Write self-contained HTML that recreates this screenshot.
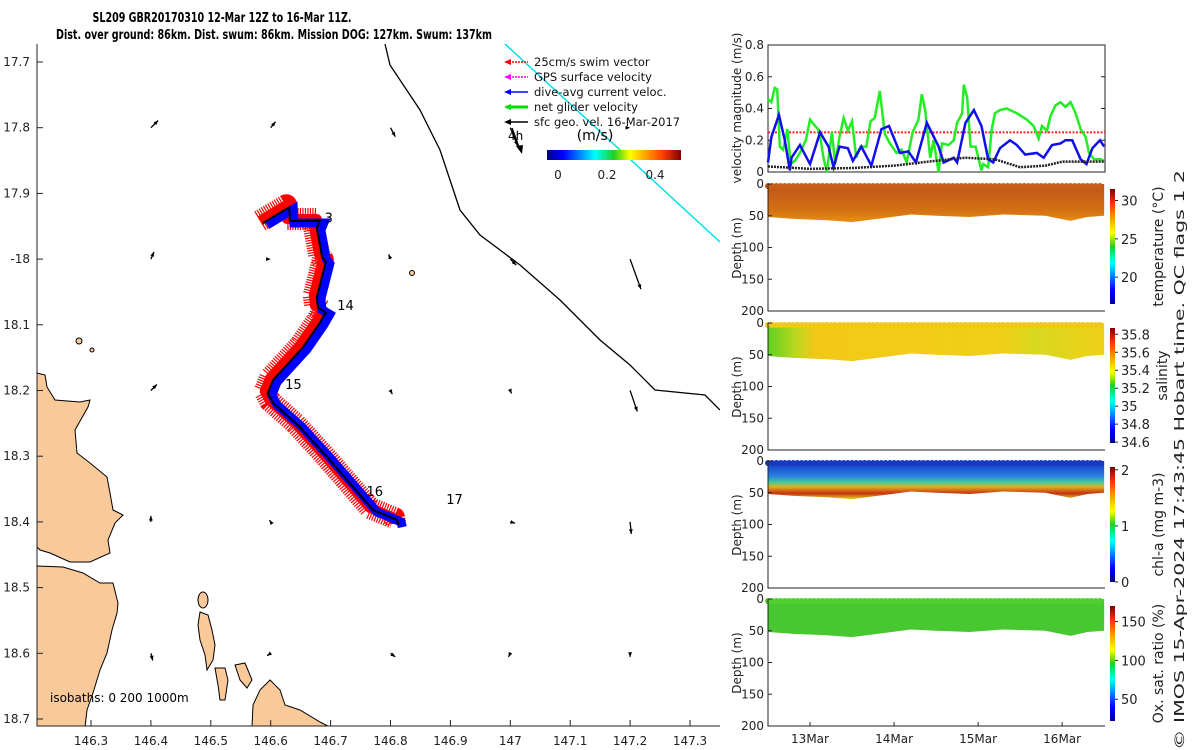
<!DOCTYPE html>
<html><head><meta charset="utf-8"><style>
html,body{margin:0;padding:0;background:#fff;overflow:hidden;width:1200px;height:750px;}
svg{display:block;font-family:"DejaVu Sans","Liberation Sans",sans-serif;}
</style></head><body>
<svg id="fig" width="1200" height="750" viewBox="0 0 1200 750" xmlns="http://www.w3.org/2000/svg">
<defs>
<linearGradient id="jetH" x1="0" x2="1" y1="0" y2="0">
<stop offset="0" stop-color="#00008f"/><stop offset="0.12" stop-color="#0000ff"/><stop offset="0.36" stop-color="#00ffff"/><stop offset="0.5" stop-color="#20d020"/><stop offset="0.62" stop-color="#ffff00"/><stop offset="0.86" stop-color="#ff4000"/><stop offset="1" stop-color="#800000"/>
</linearGradient>
<linearGradient id="jetV" x1="0" x2="0" y1="1" y2="0">
<stop offset="0" stop-color="#00008f"/><stop offset="0.12" stop-color="#0000ff"/><stop offset="0.36" stop-color="#00ffff"/><stop offset="0.5" stop-color="#20d020"/><stop offset="0.62" stop-color="#ffff00"/><stop offset="0.86" stop-color="#ff4000"/><stop offset="1" stop-color="#800000"/>
</linearGradient>
<linearGradient id="chlG" x1="0" x2="0" y1="0" y2="1">
<stop offset="0" stop-color="#1030c0"/><stop offset="0.4" stop-color="#2a80e0"/><stop offset="0.55" stop-color="#40c8a0"/><stop offset="0.68" stop-color="#e0b020"/><stop offset="0.85" stop-color="#c83010"/><stop offset="1" stop-color="#e0d020"/>
</linearGradient>
<linearGradient id="tempG" x1="0" x2="0" y1="0" y2="1">
<stop offset="0" stop-color="#c05418"/><stop offset="0.7" stop-color="#d47014"/><stop offset="1" stop-color="#e89010"/>
</linearGradient>
<linearGradient id="salG" x1="0" x2="1" y1="0" y2="0">
<stop offset="0" stop-color="#60d020"/><stop offset="0.08" stop-color="#b8d820"/><stop offset="0.14" stop-color="#f2c818"/><stop offset="0.7" stop-color="#f0d018"/><stop offset="0.8" stop-color="#d8d820"/><stop offset="1" stop-color="#f0d018"/>
</linearGradient>
<clipPath id="mapClip"><rect x="37" y="44" width="683" height="682"/></clipPath>
</defs>

<text x="222" y="22" font-size="13" font-weight="bold" text-anchor="middle" textLength="259" lengthAdjust="spacingAndGlyphs">SL209 GBR20170310 12-Mar 12Z to 16-Mar 11Z.</text>
<text x="274" y="39" font-size="13" font-weight="bold" text-anchor="middle" textLength="436" lengthAdjust="spacingAndGlyphs">Dist. over ground: 86km. Dist. swum: 86km. Mission DOG: 127km. Swum: 137km</text>

<g id="map"></g>
<g id="vel"></g>
<g id="sections"></g>

<text transform="translate(1184,460) rotate(-90)" font-size="13" text-anchor="middle" fill="#222" textLength="580" lengthAdjust="spacingAndGlyphs">© IMOS 15-Apr-2024 17:43:45 Hobart time. QC flags 1  2</text>
</svg>
<script>
// ---------- DATA ----------
const lonTicks = [146.3,146.4,146.5,146.6,146.7,146.8,146.9,147,147.1,147.2,147.3];
const latTicks = [17.7,17.8,17.9,18,18.1,18.2,18.3,18.4,18.5,18.6,18.7];
const lonTickLabels = ['146.3','146.4','146.5','146.6','146.7','146.8','146.9','147','147.1','147.2','147.3'];
const latTickLabels = ['17.7','17.8','17.9','-18','18.1','18.2','18.3','18.4','18.5','18.6','18.7'];
const trackLon = [146.587,146.631,146.632,146.682,146.677,146.686,146.692,146.677,146.679,146.692,146.682,146.654,146.604,146.595,146.604,146.646,146.694,146.771,146.811,146.813];
const trackLat = [17.945,17.921,17.942,17.942,17.953,17.997,18.004,18.058,18.074,18.081,18.097,18.134,18.184,18.204,18.219,18.253,18.301,18.382,18.397,18.405];
const dayLabels = ['3','14','15','16','17'];
const dayLabelLon = [146.69,146.711,146.624,146.76,146.893];
const dayLabelLat = [17.937,18.070,18.190,18.353,18.365];
const geoLon = [146.4,146.6,146.8,147.0,147.2, 146.4,146.6,146.8,147.0,147.2, 146.4,146.6,146.8,147.0,147.2, 146.4,146.6,146.8,147.0,147.2, 146.4,146.6,146.8,147.0,147.2];
const geoLat = [17.8,17.8,17.8,17.8,17.8, 18.0,18.0,18.0,18.0,18.0, 18.2,18.2,18.2,18.2,18.2, 18.4,18.4,18.4,18.4,18.4, 18.6,18.6,18.6,18.6,18.6];
const geoU = [0.012,0.008,0.008,0.012,0, 0.005,0,-0.003,0.01,0.018, 0.01,0,0.003,0.002,0.012, 0,-0.002,0.01,0.008,0.002, 0.003,-0.006,0.008,-0.003,0];
const geoV = [0.012,0.01,-0.015,-0.03,0, 0.012,0,0.008,-0.01,-0.05, 0.01,0,-0.006,-0.005,-0.035, 0.01,0.003,-0.002,-0.002,-0.02, -0.012,-0.004,-0.006,-0.006,-0.006];

const velDays = [12.5,12.54,12.58,12.61,12.64,12.68,12.73,12.77,12.82,12.88,12.95,13.0,13.06,13.11,13.16,13.2,13.26,13.3,13.35,13.4,13.45,13.5,13.55,13.6,13.67,13.72,13.77,13.83,13.89,13.95,14.03,14.09,14.15,14.22,14.29,14.33,14.37,14.43,14.47,14.53,14.57,14.65,14.71,14.75,14.81,14.83,14.87,14.91,14.97,15.04,15.06,15.12,15.16,15.2,15.26,15.34,15.46,15.58,15.66,15.72,15.76,15.82,15.86,15.92,15.98,16.04,16.1,16.16,16.22,16.28,16.32,16.38,16.46,16.5];
const netVel = [.46,.44,.53,.52,.16,.14,.27,.05,.07,.12,.20,.33,.29,.26,.09,0,.25,.05,.22,.34,.26,.32,.09,.16,.16,.32,.34,.51,.24,.18,.12,.14,.06,.25,.33,.49,.39,.09,.20,0,.18,.17,.20,.31,.37,.55,.47,.16,.16,.01,.05,.03,.26,.37,.39,.40,.37,.33,.29,.21,.29,.26,.35,.42,.44,.41,.44,.37,.27,.22,.12,.08,.08,.07];
const curDays = [12.5,12.54,12.63,12.7,12.76,12.78,12.88,13.0,13.12,13.22,13.28,13.35,13.45,13.51,13.61,13.73,13.85,13.94,14.07,14.17,14.26,14.39,14.53,14.59,14.71,14.75,14.85,14.95,15.04,15.12,15.18,15.26,15.38,15.46,15.56,15.7,15.78,15.88,15.98,16.04,16.12,16.22,16.29,16.36,16.45,16.5];
const curVel = [.06,.22,.36,.20,.01,.09,.17,.05,.25,.16,.03,.16,.15,.07,.16,.04,.27,.29,.12,.13,.06,.31,.16,.06,.09,.06,.31,.39,.29,.08,.06,.15,.20,.17,.11,.12,.09,.17,.18,.20,.20,.08,.05,.15,.20,.16];
const geoDays = [12.5,13.0,13.5,14.0,14.4,14.85,15.2,15.5,15.8,16.0,16.5];
const geoVel = [.035,.02,.025,.04,.065,.09,.08,.03,.04,.065,.065];
const swimVel = [0.25];
const velTicks = [0,0.2,0.4,0.6,0.8];
const velTickLabels = ['0','0.2','0.4','0.6','0.8'];
const dateTicks = [13,14,15,16];
const dateLabels = ['13Mar','14Mar','15Mar','16Mar'];
const depthTicks = [0,50,100,150,200];
const profDays = [12.5,12.8,13.2,13.5,13.8,14.2,14.5,14.9,15.3,15.8,16.1,16.3,16.5];
const profBottom = [52,55,57,60,55,48,50,52,48,50,58,52,50];
const sections = [
 {name:'temperature', label:'temperature (°C)', ticks:[20,25,30], lo:16.5, hi:31.5, fill:'url(#tempG)'},
 {name:'salinity', label:'salinity', ticks:[34.6,34.8,35,35.2,35.4,35.6,35.8], lo:34.59, hi:35.87, fill:'url(#salG)'},
 {name:'chl-a', label:'chl-a (mg m-3)', ticks:[0,1,2], lo:0, hi:2.05, fill:'url(#chlG)'},
 {name:'oxygen', label:'Ox. sat. ratio (%)', ticks:[50,100,150], lo:22, hi:170, fill:'#48c830'}
];
const secTop = [184,323,461,599];
const cbTop = [189,328,467,606];

// ---------- HELPERS ----------
const NS='http://www.w3.org/2000/svg';
function mk(parent,tag,attrs,text){const e=document.createElementNS(NS,tag);for(const k in attrs)e.setAttribute(k,attrs[k]);if(text!==undefined)e.textContent=text;parent.appendChild(e);return e;}
const mx = lon => 91 + (lon-146.3)*599;
const my = lat => 62 + (lat-17.7)*657;

// ---------- MAP ----------
const map=document.getElementById('map');
const mapInner=mk(map,'g',{'clip-path':'url(#mapClip)'});


const landShapes=[
 '37,373 45,375 47,387 55,400 80,402 90,400 88,407 75,430 77,453 90,463 107,477 110,493 113,510 123,515 115,523 108,540 110,553 90,562 70,562 50,553 40,550 37,547',
 '37,566 63,567 83,573 100,583 113,583 118,603 117,613 112,630 107,653 100,670 93,693 87,710 85,727 37,727',
 '200,612 208,615 212,630 215,645 213,660 207,670 205,655 200,640 198,625',
 '215,668 225,668 228,680 225,700 220,700 218,685',
 '235,665 245,663 252,680 247,688 240,680',
 '252,727 253,705 260,690 270,680 280,690 285,705 300,710 320,722 330,727'
];
landShapes.forEach((p,i)=>{const e=mk(mapInner,'polygon',{points:p,fill:'#f9c99a',stroke:'#000','stroke-width':1});

});
[[203,600,5,8],[79,341,3,3],[92,350,2,2],[412,273,2.5,2.5]].forEach((c,i)=>{const e=mk(mapInner,'ellipse',{cx:c[0],cy:c[1],rx:c[2],ry:c[3],fill:'#f9c99a',stroke:'#000','stroke-width':1});

});
let iso=mk(mapInner,'polyline',{points:'385,44 390,65 400,80 420,110 440,150 460,210 480,235 520,265 560,300 600,340 630,365 655,390 705,395 720,410',fill:'none',stroke:'#000','stroke-width':1.3});


let cy=mk(mapInner,'line',{x1:505,y1:44,x2:720,y2:242,stroke:'#00e0e8','stroke-width':1.5});


geoLon.forEach((lo,i)=>{const x=mx(lo),y=my(geoLat[i]);const x2=x+geoU[i]*600,y2=y-geoV[i]*600;
 const g=mk(mapInner,'g',{});
 
 
 mk(g,'line',{x1:x,y1:y,x2:x2,y2:y2,stroke:'#000','stroke-width':1.3});
 const a=Math.atan2(y2-y,x2-x);const L=5;
 mk(g,'polygon',{points:`${x2},${y2} ${x2-L*Math.cos(a-0.4)},${y2-L*Math.sin(a-0.4)} ${x2-L*Math.cos(a+0.4)},${y2-L*Math.sin(a+0.4)}`,fill:'#000'});
});
// track
const pts=trackLon.map((lo,i)=>`${mx(lo)},${my(trackLat[i])}`).join(' ');
const ptsRed=trackLon.map((lo,i)=>`${mx(lo)-3},${my(trackLat[i])-2}`).join(' ');
const ptsOff=trackLon.map((lo,i)=>`${mx(lo)+4},${my(trackLat[i])+2}`).join(' ');
let rs=mk(mapInner,'polyline',{points:ptsRed,fill:'none',stroke:'#ff0000','stroke-width':22,'stroke-linejoin':'round','stroke-dasharray':'1.2 1.3'});


let rs2=mk(mapInner,'polyline',{points:ptsRed,fill:'none',stroke:'#ff0000','stroke-width':10,'stroke-linejoin':'round'});


let bs=mk(mapInner,'polyline',{points:ptsOff,fill:'none',stroke:'#0000ff','stroke-width':9,'stroke-linejoin':'miter'});


let tr=mk(mapInner,'polyline',{points:pts,fill:'none',stroke:'#000','stroke-width':2});


dayLabels.forEach((t,i)=>{const e=mk(mapInner,'text',{x:mx(dayLabelLon[i]),y:my(dayLabelLat[i])+5,'font-size':13},t);

});
let isoT=mk(mapInner,'text',{x:50,y:702,'font-size':12},'isobaths: 0   200  1000m');


let ax=mk(map,'polyline',{points:'37,44 37,726 720,726',fill:'none',stroke:'#222','stroke-width':1});


lonTicks.forEach((v,i)=>{const x=mx(v);mk(map,'line',{x1:x,y1:726,x2:x,y2:720,stroke:'#222'});
 const t=mk(map,'text',{x:x,y:745,'font-size':12,'text-anchor':'middle',fill:'#222'},lonTickLabels[i]);
 
 });
latTicks.forEach((v,i)=>{const y=my(v);mk(map,'line',{x1:37,y1:y,x2:43,y2:y,stroke:'#222'});
 const t=mk(map,'text',{x:30,y:y+4,'font-size':12,'text-anchor':'end',fill:'#222'},latTickLabels[i]);
 
 });
const legItems=[['25cm/s swim vector','#ff0000'],['GPS surface velocity','#ff00ff'],['dive-avg current veloc.','#0000ff'],['net glider velocity','#00e000'],['sfc geo. vel. 16-Mar-2017','#000']];
legItems.forEach((it,i)=>{const y=62+i*15;const g=mk(map,'g',{});
 
 
 mk(g,'line',{x1:506,y1:y,x2:528,y2:y,stroke:it[1],'stroke-width':i==3?3:1.5,'stroke-dasharray':i<2?'2 1':'none'});
 mk(g,'polygon',{points:`504,${y} 511,${y-3} 511,${y+3}`,fill:it[1]});
 mk(g,'text',{x:534,y:y+4,'font-size':11.5,fill:'#111'},it[0]);});
let l4=mk(map,'text',{x:508,y:140,'font-size':12},'4h');


mk(map,'line',{x1:512,y1:128,x2:520,y2:150,stroke:'#000','stroke-width':1.5});
mk(map,'polygon',{points:'522,154 516,146 523,145',fill:'#000'});
let mu=mk(map,'text',{x:595,y:140,'font-size':14,'text-anchor':'middle'},'(m/s)');


let cbh=mk(map,'rect',{x:547,y:150,width:134,height:10,fill:'url(#jetH)'});


[['0',558],['0.2',607],['0.4',655]].forEach(t=>{const e=mk(map,'text',{x:t[1],y:179,'font-size':12,'text-anchor':'middle',fill:'#222'},t[0]);

});

// ---------- VELOCITY PANEL ----------
const vel=document.getElementById('vel');
const X0=768,X1=1105;
const tx = d => X0 + (d-12.5)*(X1-X0)/4.01;
const vy = v => 172 - v*127/0.8;
mk(vel,'rect',{x:X0,y:45,width:X1-X0,height:127,fill:'#fff',stroke:'#222','stroke-width':1});
velTicks.forEach((v,i)=>{mk(vel,'line',{x1:X0,y1:vy(v),x2:X0+4,y2:vy(v),stroke:'#222'});mk(vel,'line',{x1:X1,y1:vy(v),x2:X1-4,y2:vy(v),stroke:'#222'});
 const t=mk(vel,'text',{x:X0-4,y:vy(v)+4,'font-size':12,'text-anchor':'end',fill:'#222'},velTickLabels[i]);
 
 });
let yt=mk(vel,'text',{transform:'translate(741,108) rotate(-90)','font-size':12,'text-anchor':'middle',fill:'#222'},'velocity magnitude (m/s)');


let sw=mk(vel,'line',{x1:X0,y1:vy(swimVel[0]),x2:X1,y2:vy(swimVel[0]),stroke:'#ff2020','stroke-width':2,'stroke-dasharray':'2 1.5'});


let gl=mk(vel,'polyline',{points:velDays.map((d,i)=>`${tx(d)},${vy(netVel[i])}`).join(' '),fill:'none',stroke:'#22ee22','stroke-width':2.5});


let bl=mk(vel,'polyline',{points:curDays.map((d,i)=>`${tx(d)},${vy(curVel[i])}`).join(' '),fill:'none',stroke:'#1010ee','stroke-width':2.5});


let kl=mk(vel,'polyline',{points:geoDays.map((d,i)=>`${tx(d)},${vy(geoVel[i])}`).join(' '),fill:'none',stroke:'#222','stroke-width':2.5,'stroke-dasharray':'2 1'});



// ---------- SECTIONS ----------
const sec=document.getElementById('sections');
sections.forEach((s,k)=>{
 const T=secTop[k], H=127;
 const dy = z => T + z*H/200;
 const g=mk(sec,'g',{});
 
 
 let pp=`${tx(profDays[0])},${dy(0)} `+profDays.map((d,i)=>`${tx(d)},${dy(profBottom[i])}`).join(' ')+` ${tx(profDays[profDays.length-1])},${dy(0)}`;
 const f=mk(g,'polygon',{points:pp,fill:s.fill});
 
 
 for(let d=12.5;d<=16.5;d+=0.05){mk(g,'circle',{cx:tx(d),cy:dy(0)+2,r:3,fill:k==0?'#c86018':k==1?'#f0c818':k==2?'#1838c0':'#50d030'});}
 mk(g,'polyline',{points:`${X0},${T} ${X0},${T+H} ${X1},${T+H}`,fill:'none',stroke:'#222'});
 depthTicks.forEach(z=>{mk(g,'line',{x1:X0,y1:dy(z),x2:X0+4,y2:dy(z),stroke:'#222'});
  const t=mk(g,'text',{x:X0-4,y:dy(z)+4,'font-size':12,'text-anchor':'end',fill:'#222'},String(z));
  
  });
 const yl=mk(g,'text',{transform:`translate(741,${T+64}) rotate(-90)`,'font-size':12,'text-anchor':'middle',fill:'#222'},'Depth (m)');
 
 
 const CT=cbTop[k], CH=115;
 const cv = v => CT+CH - (v-s.lo)/(s.hi-s.lo)*CH;
 const cb=mk(g,'rect',{x:1110,y:CT,width:5,height:CH,fill:'url(#jetV)'});
 
 
 s.ticks.forEach(v=>{mk(g,'line',{x1:1115,y1:cv(v),x2:1118,y2:cv(v),stroke:'#222'});
  const t=mk(g,'text',{x:1121,y:cv(v)+5,'font-size':13,fill:'#222'},String(v));
  
  });
 const cl=mk(g,'text',{transform:`translate(${k==1?1167:1163},${CT+CH/2+ (k==1?-10:0)}) rotate(-90)`,'font-size':14,'text-anchor':'middle',fill:'#222'},s.label);
 
 
});
dateTicks.forEach((d,i)=>{mk(sec,'line',{x1:tx(d),y1:726,x2:tx(d),y2:722,stroke:'#222'});
 const t=mk(sec,'text',{x:tx(d),y:743,'font-size':12,'text-anchor':'middle',fill:'#222'},dateLabels[i]);
 
 });
</script>
</body></html>
